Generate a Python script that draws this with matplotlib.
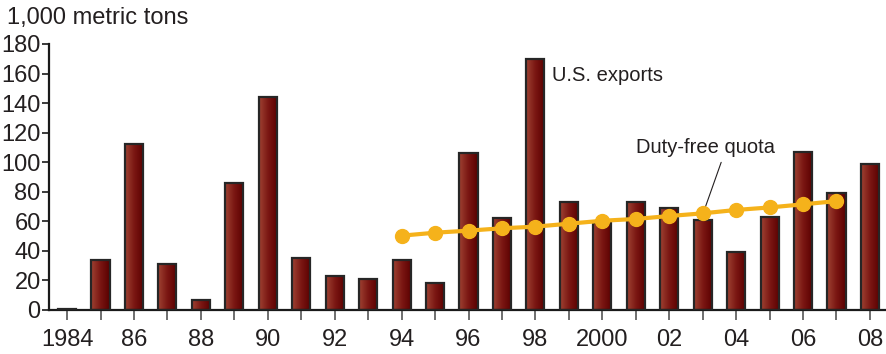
import matplotlib
matplotlib.use('Agg')
import matplotlib.pyplot as plt
from matplotlib.colors import LinearSegmentedColormap
import numpy as np

plt.rcParams['font.family'] = ['Liberation Sans', 'DejaVu Sans']

years = list(range(1984, 2009))
exports = [1, 34, 112, 31, 7, 86, 144, 35, 23, 21, 34, 18, 106, 62, 170,
           73, 59, 73, 69, 61, 39, 63, 107, 79, 99]
quota_years = list(range(1994, 2008))
quota = [50.3, 52.3, 53.7, 55.3, 56.4, 58.4, 60.4, 61.6, 63.6, 65.4, 67.7,
         69.4, 71.5, 73.7]
tick_labels = ['1984', '86', '88', '90', '92', '94', '96', '98', '2000',
               '02', '04', '06', '08']

text_color = '#231f20'
bar_cmap = LinearSegmentedColormap.from_list(
    'bar', ['#9e4232', '#7a1612', '#5a0000'])
gradient = np.linspace(0, 1, 64).reshape(1, -1)

fig = plt.figure(figsize=(8.87, 3.54), dpi=100)
ax = fig.add_axes([49 / 887, 44 / 354, 838 / 887, 266 / 354])

width = 0.54
for x, v in zip(years, exports):
    # shaded fill, then an outline drawn over it
    ax.imshow(gradient, cmap=bar_cmap, aspect='auto', interpolation='bilinear',
              extent=(x - width / 2, x + width / 2, 0, v), zorder=2)
ax.bar(years, exports, width, facecolor='none', edgecolor='#262626',
       linewidth=1.6, zorder=3)

ax.plot(quota_years, quota, color='#f5b21b', linewidth=3, marker='o',
        markersize=10, zorder=4)

ax.set_xlim(1983.46, 2008.51)
ax.set_ylim(0, 180)

ax.spines['top'].set_visible(False)
ax.spines['right'].set_visible(False)
ax.spines['left'].set_linewidth(1.6)
ax.spines['bottom'].set_linewidth(1.6)
ax.spines['left'].set_color('#1a1a1a')
ax.spines['bottom'].set_color('#1a1a1a')

ax.set_yticks(range(0, 181, 20))
ax.set_xticks(years)
ax.set_xticklabels([tick_labels[i // 2] if i % 2 == 0 else ''
                    for i in range(len(years))])
ax.tick_params(axis='y', direction='out', length=5, width=1.2,
               colors='#1a1a1a', labelsize=17, labelcolor=text_color, pad=1)
ax.tick_params(axis='x', direction='out', length=7, width=1.2,
               colors='#555555', labelsize=17, labelcolor=text_color, pad=7)

fig.text(7 / 887, 1 - 18 / 354, '1,000 metric tons', fontsize=17,
         color=text_color, va='center', ha='left')

ax.text(1998.5, 159, 'U.S. exports', fontsize=14.5, color=text_color,
        va='center', ha='left')
ax.annotate('Duty-free quota', xy=(2003.07, 69), xytext=(2003.07, 110),
            fontsize=14.5, color=text_color, ha='center', va='center',
            arrowprops=dict(arrowstyle='-', color=text_color, lw=0.8,
                            shrinkA=2, shrinkB=0, relpos=(0.63, 0.0)))

fig.savefig('out.png', dpi=100)
